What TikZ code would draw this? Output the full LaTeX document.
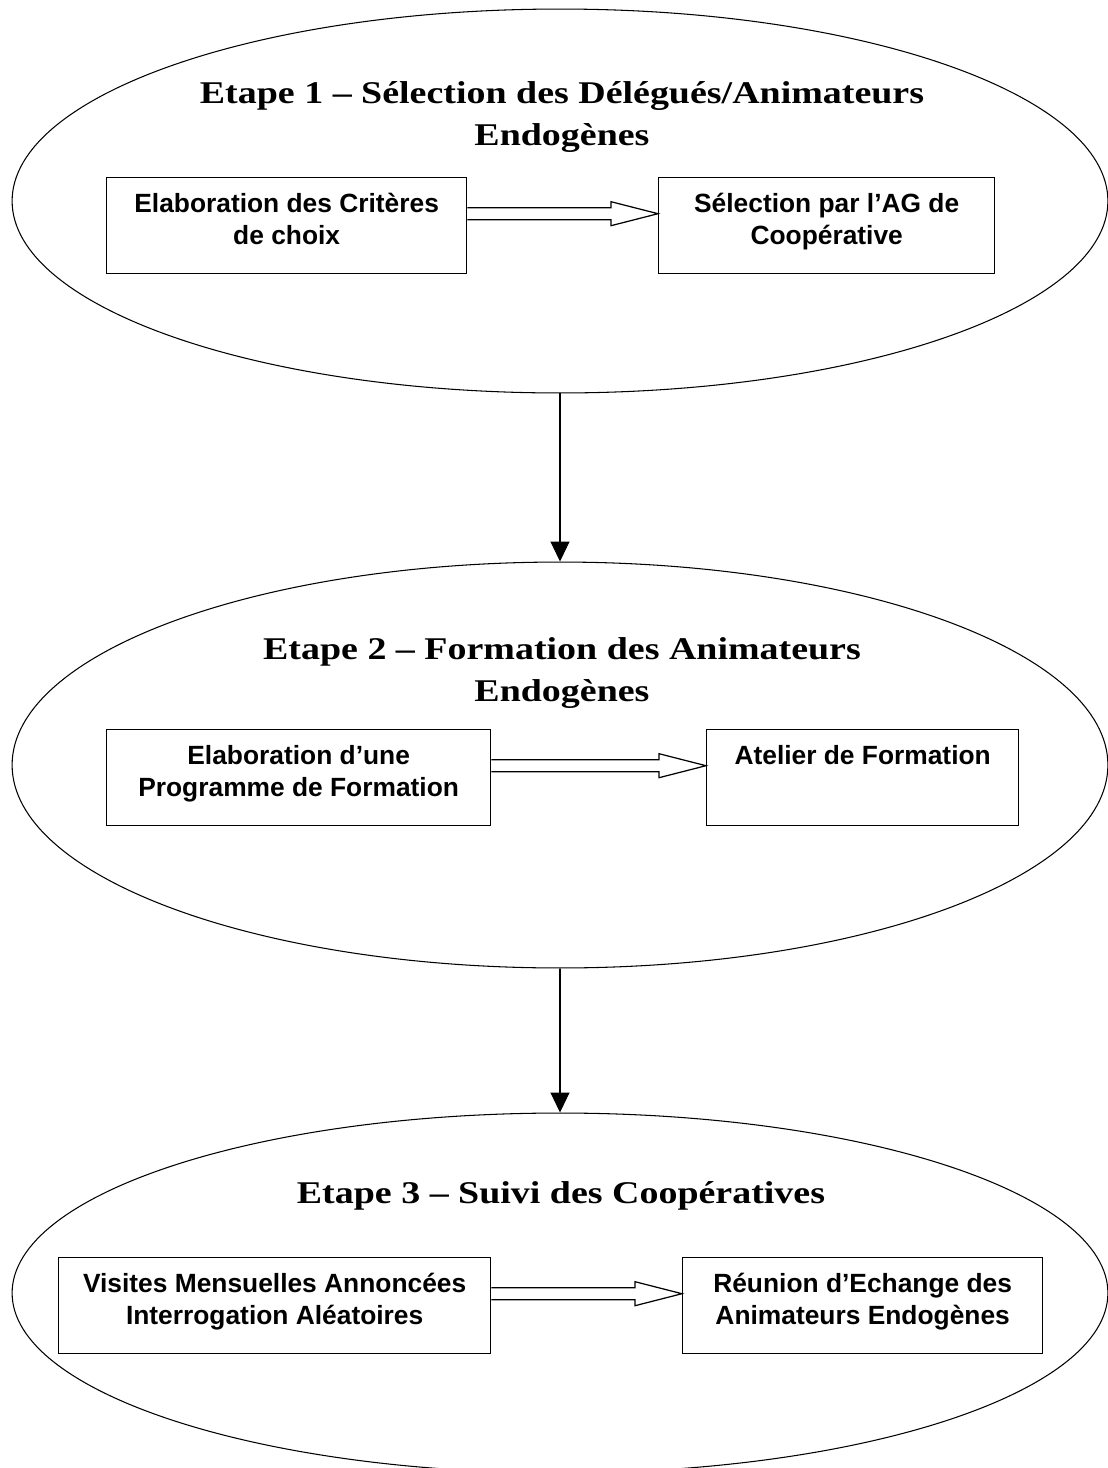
\documentclass[tikz,border=0pt]{standalone}
\usepackage{fontspec}
\setmainfont{Liberation Sans}
\newfontfamily\titleFont{Liberation Serif}[FakeStretch=1.2]
\usetikzlibrary{calc, arrows.meta, shapes.geometric}

% text of a task box, set from the top
\newcommand{\boxText}[2]{\parbox[c][1.92cm][t]{#1}{\centering\bfseries\fontsize{15}{18}\selectfont\rule{0pt}{20pt}#2}}
% hollow block arrow between two boxes
\newcommand{\hollowArrow}[2]{%
  \draw[hollow] ([yshift=.36cm]#1.east) -- ([xshift=-.94cm,yshift=.36cm]#2.west)
    -- ([xshift=-.94cm,yshift=.48cm]#2.west) -- ([yshift=.24cm]#2.west)
    -- ([xshift=-.94cm]#2.west) -- ([xshift=-.94cm,yshift=.12cm]#2.west)
    -- ([yshift=.12cm]#1.east);}

\begin{document}
\begin{tikzpicture}[x=.02cm, y=-.02cm,
  stage/.style={ellipse, draw, line width=.6pt, minimum width=21.92cm, minimum height=#1, inner sep=0pt},
  task/.style={draw, line width=.8pt, inner sep=0pt, anchor=north west},
  title/.style={font={\titleFont\bfseries\fontsize{18}{24}\selectfont}, align=center},
  flow/.style={-{Triangle[length=.4cm, width=.38cm]}, line width=.6pt},
  hollow/.style={line width=.7pt, line join=miter}]
  \useasboundingbox (0,0) rectangle (1107,1468);

  % stages
  \node[stage=7.68cm] (stepOne)   at (560,201)  {};
  \node[stage=8.12cm] (stepTwo)   at (560,765)  {};
  \node[stage=7.2cm]  (stepThree) at (560,1293) {};

  % titles
  \node[title] (titleOne)   at (562,117)  {Etape 1 – Sélection des Délégués/Animateurs\\Endogènes};
  \node[title] (titleTwo)   at (562,673)  {Etape 2 – Formation des Animateurs\\Endogènes};
  \node[title] (titleThree) at (561,1196) {Etape 3 – Suivi des Coopératives};

  % etape 1
  \node[task] (critBox) at (106,177) {\boxText{7.2cm}{Elaboration des Critères\\de choix}};
  \node[task] (agBox)   at (658,177) {\boxText{6.72cm}{Sélection par l’AG de\\Coopérative}};
  \hollowArrow{critBox}{agBox}

  % etape 2
  \node[task] (progBox)    at (106,729) {\boxText{7.68cm}{Elaboration d’une\\Programme de Formation}};
  \node[task] (atelierBox) at (706,729) {\boxText{6.24cm}{Atelier de Formation}};
  \hollowArrow{progBox}{atelierBox}

  % etape 3
  \node[task] (visitBox)   at (58,1257)  {\boxText{8.64cm}{Visites Mensuelles Annoncées\\Interrogation Aléatoires}};
  \node[task] (reunionBox) at (682,1257) {\boxText{7.2cm}{Réunion d’Echange des\\Animateurs Endogènes}};
  \hollowArrow{visitBox}{reunionBox}

  % links between stages
  \draw[flow] (stepOne.south) -- (stepTwo.north);
  \draw[flow] (stepTwo.south) -- (stepThree.north);
\end{tikzpicture}
\end{document}
